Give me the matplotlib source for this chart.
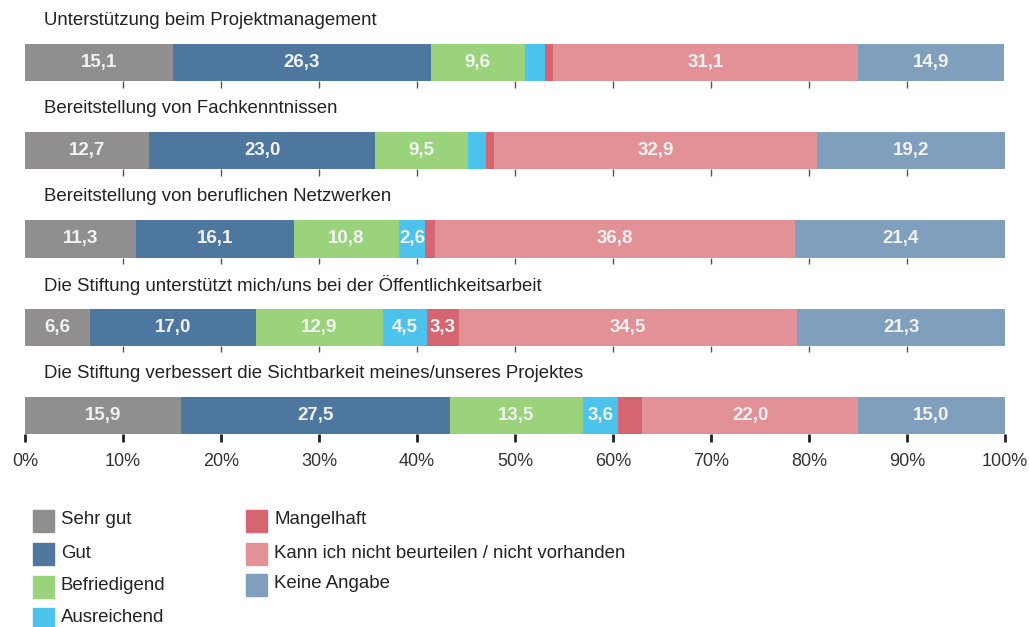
import matplotlib
matplotlib.use("Agg")
import matplotlib.pyplot as plt
from matplotlib.patches import Rectangle
import numpy as np

plt.rcParams['font.family'] = ['Liberation Sans', 'DejaVu Sans']

questions = [
    'Unterstützung beim Projektmanagement',
    'Bereitstellung von Fachkenntnissen',
    'Bereitstellung von beruflichen Netzwerken',
    'Die Stiftung unterstützt mich/uns bei der Öffentlichkeitsarbeit',
    'Die Stiftung verbessert die Sichtbarkeit meines/unseres Projektes',
]
categories = ['Sehr gut', 'Gut', 'Befriedigend', 'Ausreichend',
              'Mangelhaft', 'Kann ich nicht beurteilen / nicht vorhanden', 'Keine Angabe']
colors = ['#908e8f', '#4e77a0', '#9bd37c', '#4cc3ec', '#d66572', '#e29197', '#809fbd']

sehr_gut = [15.1, 12.7, 11.3, 6.6, 15.9]
gut = [26.3, 23.0, 16.1, 17.0, 27.5]
befriedigend = [9.6, 9.5, 10.8, 12.9, 13.5]
ausreichend = [2.1, 1.8, 2.6, 4.5, 3.6]
mangelhaft = [0.8, 0.9, 1.0, 3.3, 2.5]
kann_nicht = [31.1, 32.9, 36.8, 34.5, 22.0]
keine_angabe = [14.9, 19.2, 21.4, 21.3, 15.0]

series = [sehr_gut, gut, befriedigend, ausreichend, mangelhaft, kann_nicht, keine_angabe]
ticks = np.arange(0, 101, 10)

W, H = 1029, 627
fig = plt.figure(figsize=(W / 100, H / 100), dpi=100)
ax = fig.add_axes([25 / W, 193 / H, 980 / W, 434 / H])

y = np.arange(len(questions))
bar_h = 0.42
left = np.zeros(len(questions))
for vals, col in zip(series, colors):
    vals = np.array(vals)
    ax.barh(y, vals, left=left, height=bar_h, color=col, linewidth=0)
    for yi, (l, v) in enumerate(zip(left, vals)):
        if v >= 2.6:
            ax.text(l + v / 2, yi, f'{v:.1f}'.replace('.', ','), ha='center', va='center',
                    color='#f2f2f2', fontsize=13.5, fontweight='bold')
    left += vals

# question titles
for yi, q in enumerate(questions):
    ax.text(1.95, yi - 0.48, q, ha='left', va='center', fontsize=13.4, color='#222222')

# small ticks under the upper rows
for yi in y[:-1]:
    ax.vlines(ticks[1:-1], yi + bar_h / 2, yi + bar_h / 2 + 0.075, color='#555555', lw=1)

ax.set_xlim(0, 100)
ax.set_ylim(4 + bar_h / 2, -0.708)
ax.set_xticks(ticks)
ax.set_xticklabels([f'{t}%' for t in ticks], fontsize=13, color='#333333')
ax.tick_params(axis='x', length=6, width=2, color='#222222', pad=8)
ax.set_yticks([])
for s in ax.spines.values():
    s.set_visible(False)

# legend
col_x = [33, 246]
row_y = [[510, 543, 576, 608], [510, 543, 574]]
for i, (cat, col) in enumerate(zip(categories, colors)):
    c = 0 if i < 4 else 1
    r = i if i < 4 else i - 4
    x0 = col_x[c]
    y0 = row_y[c][r]
    fig.patches.append(Rectangle((x0 / W, 1 - (y0 + 22) / H), 21 / W, 22 / H,
                                 transform=fig.transFigure, color=col))
    fig.text((x0 + 28) / W, 1 - (y0 + 10) / H, cat, ha='left', va='center',
             fontsize=13.4, color='#222222')

fig.savefig('out.png', dpi=100)
